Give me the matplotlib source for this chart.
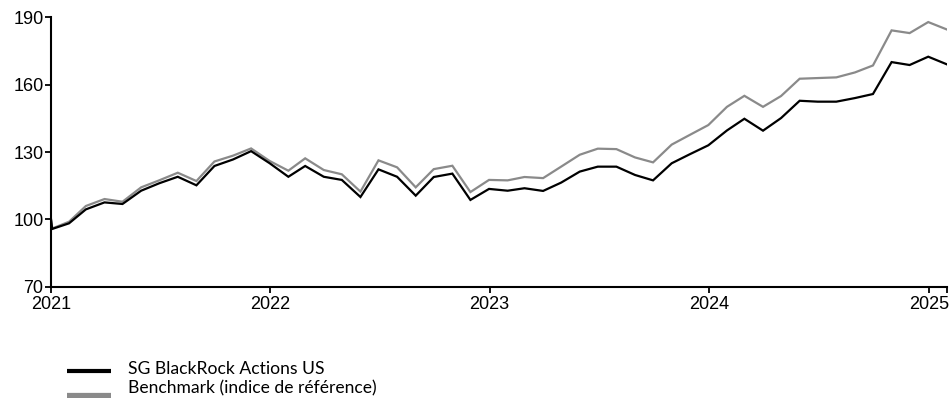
import numpy as np
import pandas as pd
import matplotlib
matplotlib.use("Agg")
import matplotlib.pyplot as plt
import matplotlib.dates as mdates
from matplotlib.lines import Line2D

plt.rcParams["font.family"] = ["Liberation Sans", "DejaVu Sans"]

# ---- data (base 100) ----
start_dates = ["2021-01-01", "2021-01-03"]
month_ends = pd.date_range("2021-01-31", "2025-01-31", freq="ME")
dates = pd.to_datetime(start_dates).append(month_ends)

fund_start = [100.0, 95.8]
fund = [98.3, 104.5, 107.6, 106.9, 112.8, 116.1, 119.0, 115.2, 123.8, 126.7,
        130.4, 125.0, 119.0, 123.8, 119.0, 117.6, 110.0, 122.3, 119.0, 110.6,
        118.9, 120.4, 108.7, 113.6, 112.8, 113.9, 112.7, 116.4, 121.3, 123.5,
        123.5, 119.8, 117.4, 125.0, 129.0, 133.0, 139.6, 144.8, 139.5, 145.1,
        152.8, 152.4, 152.4, 154.0, 155.8, 170.0, 168.7, 172.4, 169.0]

bench_start = [100.0, 96.0]
bench = [99.0, 106.0, 109.1, 107.9, 114.3, 117.4, 120.8, 117.1, 125.8, 128.4,
         131.6, 126.0, 121.7, 127.2, 122.0, 120.1, 112.4, 126.3, 123.2, 114.3,
         122.4, 123.9, 112.2, 117.6, 117.4, 118.9, 118.4, 123.5, 128.8, 131.5,
         131.3, 127.6, 125.4, 133.3, 137.6, 142.0, 150.1, 155.0, 150.1, 154.9,
         162.6, 162.9, 163.2, 165.4, 168.5, 184.1, 182.9, 187.8, 184.5]

labels = ["SG BlackRock Actions US", "Benchmark (indice de référence)"]
colors = ["#000000", "#8a8a8a"]
yticks = [70, 100, 130, 160, 190]

# ---- figure ----
fig = plt.figure(figsize=(9.5, 3.98), dpi=100)
ax = fig.add_axes([0.0537, 0.279, 0.943, 0.678])

ax.plot(dates, bench_start + bench, color=colors[1], lw=1.6, solid_joinstyle="miter")
ax.plot(dates, fund_start + fund, color=colors[0], lw=1.6, solid_joinstyle="miter")

ax.set_ylim(70, 190)
ax.set_yticks(yticks)
ax.set_xlim(dates[0], dates[-1])
ax.xaxis.set_major_locator(mdates.YearLocator())
ax.xaxis.set_major_formatter(mdates.DateFormatter("%Y"))
ax.set_xticks([mdates.date2num(dates[-1])], minor=True)

for s in ["top", "right"]:
    ax.spines[s].set_visible(False)
for s in ["left", "bottom"]:
    ax.spines[s].set_linewidth(1.5)

ax.tick_params(which="both", length=4.5, width=1.3, color="black")
ax.tick_params(axis="y", pad=1, labelsize=13)
ax.tick_params(axis="x", pad=2, labelsize=13)

# legend (drawn by hand at the bottom left)
key_y = [0.068, 0.004]
text_y = [0.073, 0.023]
for c, ky, ty, lab, lw in zip(colors, key_y, text_y, labels, [3.0, 4.5]):
    fig.add_artist(Line2D([0.071, 0.117], [ky, ky], color=c, lw=lw,
                          solid_capstyle="butt", transform=fig.transFigure))
    fig.text(0.135, ty, lab, fontsize=12.6, family="Lato", va="center", ha="left")

fig.savefig("out.png", dpi=100)
